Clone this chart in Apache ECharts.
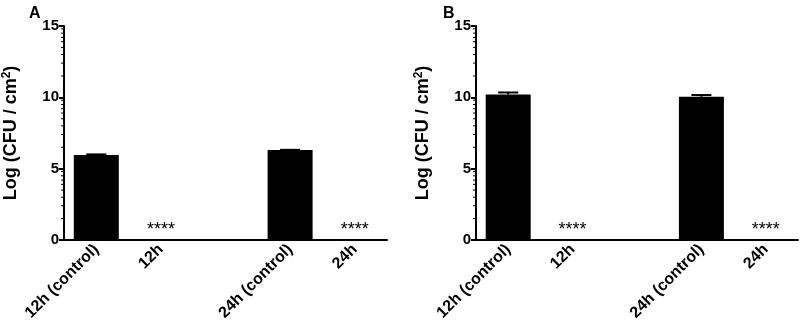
<!DOCTYPE html>
<html>
<head>
<meta charset="utf-8">
<script src="https://cdn.jsdelivr.net/npm/echarts@6.0.0/dist/echarts.min.js"></script>
<style>
  html, body { margin: 0; padding: 0; background: #fff; }
  #root { width: 800px; height: 329px; }
</style>
</head>
<body>
<div id="root"></div>
<script>
  // categories (the blank one is the gap between 12h and 24h groups)
  const categories = ['12h (control)', '12h', '', '24h (control)', '24h'];

  // panel A
  const valuesA = [5.95, 0, null, 6.3, 0];
  const errorsA = [0.05, 0, null, 0.02, 0];
  const starsA = ['', '****', '', '', '****'];

  // panel B
  const valuesB = [10.2, 0, null, 10.04, 0];
  const errorsB = [0.14, 0, null, 0.12, 0];
  const starsB = ['', '****', '', '', '****'];

  const yTicks = [0, 5, 10, 15];
  // Prism style log-spaced minor ticks inside each 5-unit step
  const minorSteps = [1.5, 2.4, 3.0, 3.5, 3.9, 4.2, 4.5, 4.8];

  const font = 'Arial, "Liberation Sans", sans-serif';
  const chart = echarts.init(document.getElementById('root'));

  function minorTickData() {
    const out = [];
    yTicks.slice(0, -1).forEach(base => {
      minorSteps.forEach(s => out.push(base + s));
    });
    return out;
  }

  function xAxis(gridIndex) {
    return {
      type: 'category',
      gridIndex: gridIndex,
      data: categories,
      axisLine: { lineStyle: { color: '#000', width: 2 } },
      axisTick: { alignWithLabel: true, length: 5, lineStyle: { color: '#000', width: 2 } },
      axisLabel: {
        interval: 0, rotate: 45, margin: 7,
        color: '#000', fontWeight: 'bold', fontSize: 16, fontFamily: font
      }
    };
  }

  function yAxis(gridIndex) {
    return {
      type: 'value',
      gridIndex: gridIndex,
      min: 0, max: 15, interval: 5,
      name: '{a|Log (CFU / cm}{s|2}{a|)}',
      nameLocation: 'middle',
      nameGap: 43,
      nameTextStyle: {
        rich: {
          a: { fontSize: 18, fontWeight: 'bold', color: '#000', fontFamily: font, lineHeight: 20 },
          s: { fontSize: 12, fontWeight: 'bold', color: '#000', fontFamily: font, verticalAlign: 'top', lineHeight: 20, padding: [0, 0, 7, 0] }
        }
      },
      axisLine: { show: true, lineStyle: { color: '#000', width: 2 } },
      axisTick: { show: true, length: 5, lineStyle: { color: '#000', width: 2 } },
      axisLabel: { color: '#000', fontWeight: 'bold', fontSize: 15, fontFamily: font, margin: 5 },
      splitLine: { show: false }
    };
  }

  function barSeries(idx, values, stars) {
    return {
      type: 'bar',
      xAxisIndex: idx, yAxisIndex: idx,
      data: values,
      barWidth: 45,
      itemStyle: { color: '#000' },
      label: {
        show: true, position: 'top', distance: 1,
        formatter: p => stars[p.dataIndex] || '',
        color: '#000', fontSize: 18, fontFamily: font
      },
      animation: false
    };
  }

  function errorSeries(idx, values, errors) {
    return {
      type: 'custom',
      xAxisIndex: idx, yAxisIndex: idx,
      data: values.map((v, i) => [i, v, errors[i]]),
      renderItem: (params, api) => {
        const v = api.value(1), e = api.value(2);
        if (!e) return null;
        const top = api.coord([api.value(0), v + e]);
        const mid = api.coord([api.value(0), v]);
        const half = 10;
        return {
          type: 'group',
          children: [
            { type: 'line', shape: { x1: top[0], y1: top[1], x2: mid[0], y2: mid[1] }, style: { stroke: '#000', lineWidth: 2 } },
            { type: 'line', shape: { x1: top[0] - half, y1: top[1], x2: top[0] + half, y2: top[1] }, style: { stroke: '#000', lineWidth: 2 } }
          ]
        };
      },
      z: 3,
      animation: false
    };
  }

  function minorSeries(idx) {
    return {
      type: 'custom',
      xAxisIndex: idx, yAxisIndex: idx,
      data: minorTickData().map(v => [0, v]),
      clip: false,
      renderItem: (params, api) => {
        const p = api.coord([0, api.value(1)]);
        const x0 = params.coordSys.x;
        return {
          type: 'line',
          shape: { x1: x0 - 3, y1: p[1], x2: x0, y2: p[1] },
          style: { stroke: '#000', lineWidth: 1 }
        };
      },
      silent: true,
      animation: false
    };
  }

  chart.setOption({
    animation: false,
    textStyle: { fontFamily: font },
    grid: [
      { left: 64, top: 26, width: 323, height: 214 },
      { left: 476, top: 26, width: 322, height: 214 }
    ],
    title: [
      { text: 'A', left: 24, top: 1, textStyle: { fontSize: 16, fontWeight: 'bold', color: '#000', fontFamily: font } },
      { text: 'B', left: 438, top: 1, textStyle: { fontSize: 16, fontWeight: 'bold', color: '#000', fontFamily: font } }
    ],
    xAxis: [xAxis(0), xAxis(1)],
    yAxis: [yAxis(0), yAxis(1)],
    series: [
      barSeries(0, valuesA, starsA),
      errorSeries(0, valuesA, errorsA),
      minorSeries(0),
      barSeries(1, valuesB, starsB),
      errorSeries(1, valuesB, errorsB),
      minorSeries(1)
    ]
  });
</script>
</body>
</html>
